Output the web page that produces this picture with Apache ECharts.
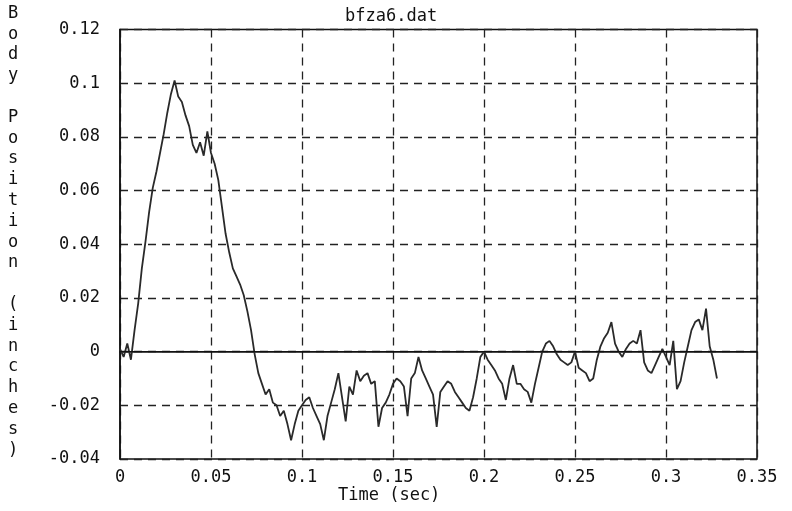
<!DOCTYPE html>
<html>
<head>
<meta charset="utf-8">
<script src="https://cdn.jsdelivr.net/npm/echarts@6/dist/echarts.min.js"></script>
<style>
html,body{margin:0;padding:0;background:#fff;}
#chart{width:792px;height:511px;}
</style>
</head>
<body>
<div id="chart"></div>
<script>
// Sampling interval of the recorded trace (seconds)
var sampleStep = 0.002;
// Body position (inches), one value per sample
var bodyPosition = [
  0.001,-0.002,0.003,-0.003,0.008,0.018,0.031,0.041,0.052,0.061,
  0.067,0.074,0.081,0.089,0.096,0.101,0.095,0.093,0.088,0.084,
  0.077,0.074,0.078,0.073,0.082,0.074,0.070,0.064,0.054,0.044,
  0.037,0.031,0.028,0.025,0.021,0.015,0.008,-0.001,-0.008,-0.012,
  -0.016,-0.014,-0.019,-0.020,-0.024,-0.022,-0.027,-0.033,-0.027,-0.022,
  -0.020,-0.018,-0.017,-0.021,-0.024,-0.027,-0.033,-0.024,-0.019,-0.014,
  -0.008,-0.017,-0.026,-0.013,-0.016,-0.007,-0.011,-0.009,-0.008,-0.012,
  -0.011,-0.028,-0.021,-0.019,-0.016,-0.012,-0.010,-0.011,-0.013,-0.024,
  -0.010,-0.008,-0.002,-0.007,-0.010,-0.013,-0.016,-0.028,-0.015,-0.013,
  -0.011,-0.012,-0.015,-0.017,-0.019,-0.021,-0.022,-0.017,-0.010,-0.002,
  0.000,-0.003,-0.005,-0.007,-0.010,-0.012,-0.018,-0.010,-0.005,-0.012,
  -0.012,-0.014,-0.015,-0.019,-0.012,-0.006,0.000,0.003,0.004,0.002,
  -0.001,-0.003,-0.004,-0.005,-0.004,0.000,-0.006,-0.007,-0.008,-0.011,
  -0.010,-0.003,0.002,0.005,0.007,0.011,0.003,0.000,-0.002,0.001,
  0.003,0.004,0.003,0.008,-0.004,-0.007,-0.008,-0.005,-0.002,0.001,
  -0.002,-0.005,0.004,-0.014,-0.011,-0.004,0.002,0.008,0.011,0.012,
  0.008,0.016,0.002,-0.003,-0.010
];
var xTickLabels = ['0','0.05','0.1','0.15','0.2','0.25','0.3','0.35'];
var yTickLabels = ['-0.04','-0.02','0','0.02','0.04','0.06','0.08','0.1','0.12'];
var chartTitle = 'bfza6.dat';
var xAxisTitle = 'Time (sec)';
var yAxisTitle = 'Body Position (inches)';

var seriesData = bodyPosition.map(function (v, i) { return [i * sampleStep, v]; });

var FONT = 'DejaVu Sans Mono';
var chart = echarts.init(document.getElementById('chart'), null, {renderer: 'canvas'});
chart.setOption({
  backgroundColor: '#ffffff',
  animation: false,
  title: [
    {text: chartTitle, left: 340, top: 3,
     textStyle: {fontFamily: FONT, fontSize: 17, fontWeight: 'normal', color: '#111'}},
    {text: xAxisTitle, left: 333, top: 482,
     textStyle: {fontFamily: FONT, fontSize: 17, fontWeight: 'normal', color: '#111'}}
  ],
  graphic: [{
    type: 'text', left: 8, top: 3,
    style: {text: yAxisTitle.split('').join('\n'), font: '17px "DejaVu Sans Mono"',
            lineHeight: 20.8, fill: '#111', align: 'center'}
  }],
  grid: {left: 120, right: 35, top: 29.5, bottom: 52, show: true,
         borderColor: '#111', borderWidth: 1.5, backgroundColor: 'transparent'},
  xAxis: {
    type: 'value', min: 0, max: 0.35, interval: 0.05,
    axisLine: {show: true, lineStyle: {color: '#111', width: 1.5}},
    axisTick: {show: false},
    axisLabel: {margin: 10, fontFamily: FONT, fontSize: 17, color: '#111',
      formatter: function (v) { return xTickLabels[Math.round(v / 0.05)]; }},
    splitLine: {show: true, lineStyle: {color: '#222', width: 1.3, type: [8, 6]}}
  },
  yAxis: {
    type: 'value', min: -0.04, max: 0.12, interval: 0.02,
    axisLine: {show: true, lineStyle: {color: '#111', width: 1.5}},
    axisTick: {show: false},
    axisLabel: {margin: 20, fontFamily: FONT, fontSize: 17, color: '#111',
      formatter: function (v) { return yTickLabels[Math.round((v + 0.04) / 0.02)]; }},
    splitLine: {show: true, lineStyle: {color: '#222', width: 1.3, type: [8, 6]}}
  },
  series: [{
    type: 'line', data: seriesData, showSymbol: false, symbol: 'none',
    lineStyle: {color: '#2a2a2a', width: 1.8},
    markLine: {silent: true, symbol: 'none', label: {show: false},
      lineStyle: {color: '#111', width: 1, type: 'solid'},
      data: [{yAxis: 0}]}
  }]
});
</script>
</body>
</html>
